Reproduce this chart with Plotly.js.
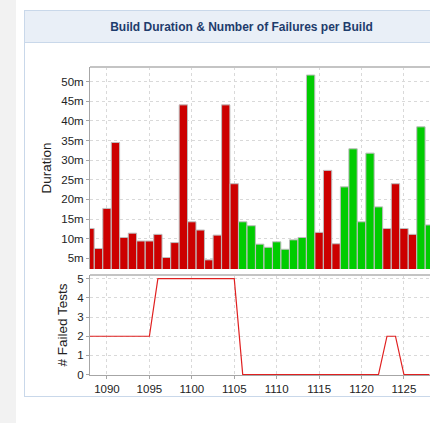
<!DOCTYPE html>
<html>
<head>
<meta charset="utf-8">
<script src="https://cdn.plot.ly/plotly-3.0.1.min.js"></script>
<style>
  html, body { margin: 0; padding: 0; width: 430px; height: 423px; overflow: hidden; background: #ffffff; }
  #strip { position: absolute; left: 0; top: 0; width: 16px; height: 423px; background: #f2f2f2; }
  #panel { position: absolute; left: 24px; top: 10px; width: 520px; height: 385px; border: 1px solid #c9d8ea; background: #ffffff; }
  #band { position: absolute; left: 25px; top: 11px; width: 520px; height: 31px; background: #e9eff7; border-bottom: 1px solid #c9d8ea; }
  #chart { position: absolute; left: 0; top: 0; width: 430px; height: 423px; }
</style>
</head>
<body>
<div id="strip"></div>
<div id="panel"></div>
<div id="band"></div>
<div id="chart"></div>
<script>
// Build numbers
const builds = [1088,1089,1090,1091,1092,1093,1094,1095,1096,1097,1098,1099,1100,1101,1102,1103,1104,1105,1106,1107,
                1108,1109,1110,1111,1112,1113,1114,1115,1116,1117,1118,1119,1120,1121,1122,1123,1124,1125,1126,1127,1128];
// Build duration in minutes
const durations = [12.6,7.5,17.7,34.5,10.3,11.4,9.4,9.4,11.1,5.2,9.0,44.1,14.3,12.2,4.6,10.9,44.1,24.0,14.3,13.3,
                   8.6,7.8,9.2,7.3,9.7,10.3,51.7,11.6,27.4,8.7,23.2,32.9,14.3,31.8,18.1,12.6,24.0,12.6,11.1,38.5,13.5];
// Build result: F = failed (red), S = success (green)
const status = ['F','F','F','F','F','F','F','F','F','F','F','F','F','F','F','F','F','F','S','S',
                'S','S','S','S','S','S','S','F','F','F','S','S','S','S','S','F','F','F','F','S','S'];
// Number of failed tests per build
const failedTests = [2,2,2,2,2,2,2,2,5,5,5,5,5,5,5,5,5,5,0,0,
                     0,0,0,0,0,0,0,0,0,0,0,0,0,0,0,2,2,0,0,0,0];
// Tick values / labels
const durTicks = [5,10,15,20,25,30,35,40,45,50];
const failTicks = [0,1,2,3,4,5];
const buildTicks = [1090,1095,1100,1105,1110,1115,1120,1125];

const colorMap = {F: '#cc0000', S: '#00cc00'};
const gridColor = '#d9d9d9';
const axisColor = '#a6a6a6';
const tickFont = {family: 'Liberation Sans, Arial, sans-serif', size: 11.5, color: '#222222'};
const titleFont = {family: 'Liberation Sans, Arial, sans-serif', size: 13.5, color: '#222222'};

const bars = {
  type: 'bar', x: builds, y: durations, xaxis: 'x', yaxis: 'y',
  marker: {color: status.map(s => colorMap[s]), line: {color: '#bdbdbd', width: 1}},
  hoverinfo: 'x+y', showlegend: false
};
const line = {
  type: 'scatter', mode: 'lines', x: builds, y: failedTests, xaxis: 'x2', yaxis: 'y2',
  line: {color: '#e02020', width: 1.2}, showlegend: false, cliponaxis: false
};

const xr = [1088, 1128.07];
const layout = {
  width: 430, height: 423,
  margin: {l: 90, r: 0, t: 67, b: 48},
  paper_bgcolor: 'rgba(0,0,0,0)', plot_bgcolor: 'rgba(0,0,0,0)',
  bargap: 0.02,
  title: {
    text: 'Build Duration & Number of Failures per Build',
    font: {family: 'Liberation Sans, Arial, sans-serif', size: 12, color: '#1e3c6c', weight: 'bold'},
    xref: 'container', yref: 'container', x: 241.5/430, xanchor: 'center', y: 1 - 27/423, yanchor: 'middle'
  },
  xaxis: {
    domain: [0, 1], range: xr, anchor: 'y', matches: 'x2',
    showticklabels: false, tickvals: buildTicks, ticks: '',
    showgrid: true, gridcolor: gridColor, griddash: '3px,3px', gridwidth: 1,
    zeroline: false, showline: false
  },
  yaxis: {
    domain: [106/308, 1], range: [2.27, 53.75], anchor: 'x',
    tickvals: durTicks, ticktext: durTicks.map(v => v + 'm'),
    ticks: 'outside', ticklen: 3, tickcolor: axisColor, tickfont: tickFont,
    showgrid: true, gridcolor: gridColor, griddash: '3px,3px', gridwidth: 1,
    zeroline: false, showline: true, linecolor: axisColor, linewidth: 1,
    title: {text: 'Duration', font: titleFont, standoff: 6}
  },
  xaxis2: {
    domain: [0, 1], range: xr, anchor: 'y2',
    tickvals: buildTicks, ticktext: buildTicks.map(String),
    ticks: 'outside', ticklen: 3, tickcolor: axisColor, tickfont: tickFont,
    showgrid: true, gridcolor: gridColor, griddash: '3px,3px', gridwidth: 1,
    zeroline: false, showline: true, linecolor: axisColor, linewidth: 1
  },
  yaxis2: {
    domain: [0, 100/308], range: [-0.02, 5.19], anchor: 'x2',
    tickvals: failTicks, ticktext: failTicks.map(String),
    ticks: 'outside', ticklen: 3, tickcolor: axisColor, tickfont: tickFont,
    showgrid: true, gridcolor: gridColor, griddash: '3px,3px', gridwidth: 1,
    zeroline: false, showline: true, linecolor: axisColor, linewidth: 1,
    title: {text: '# Failed Tests', font: titleFont, standoff: 6}
  },
  shapes: [
    {type: 'line', xref: 'paper', yref: 'y domain', x0: 0, x1: 1, y0: 1, y1: 1, line: {color: '#c4c4c4', width: 2}},
    {type: 'line', xref: 'paper', yref: 'y2 domain', x0: 0, x1: 1, y0: 1, y1: 1, line: {color: '#c4c4c4', width: 2}}
  ]
};

Plotly.newPlot('chart', [bars, line], layout, {displayModeBar: false, staticPlot: true});
</script>
</body>
</html>
